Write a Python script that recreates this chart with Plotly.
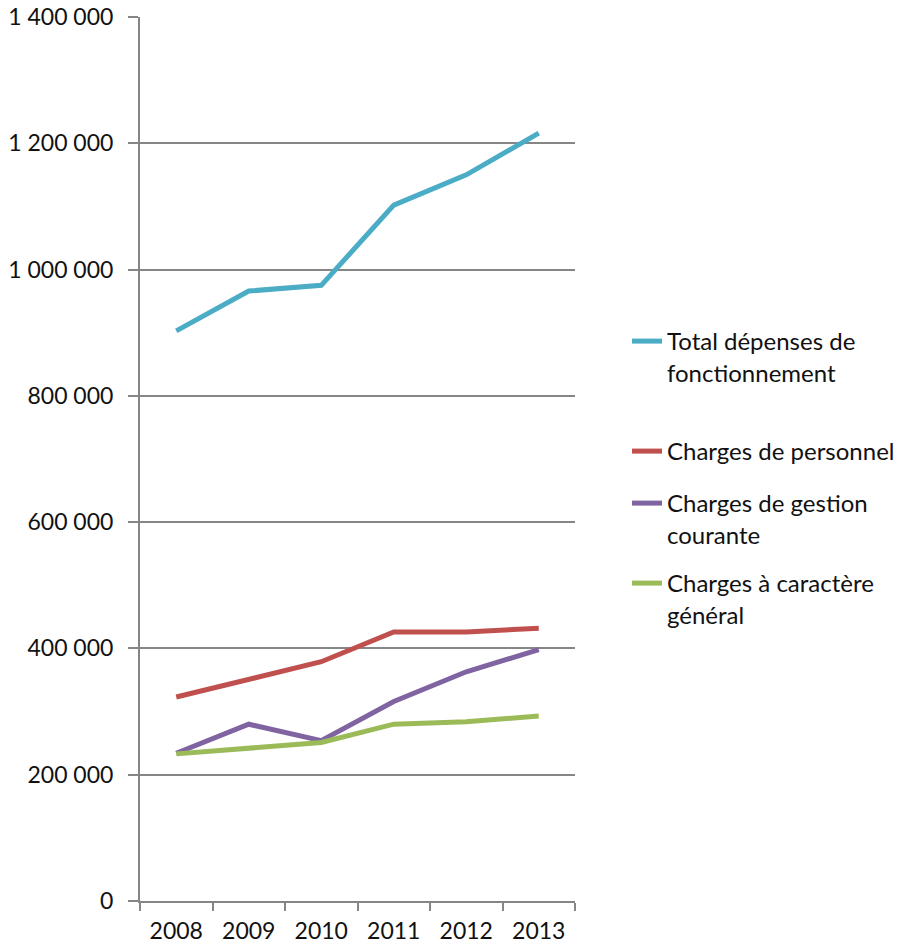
import plotly.graph_objects as go

years = ["2008", "2009", "2010", "2011", "2012", "2013"]
total = [903000, 966000, 975000, 1102000, 1150000, 1216000]
personnel = [323000, 350000, 379000, 426000, 426000, 432000]
gestion = [234000, 280000, 254000, 316000, 363000, 398000]
caractere = [233000, 242000, 251000, 280000, 284000, 293000]

names = ["Total dépenses de<br>fonctionnement", "Charges de personnel",
         "Charges de gestion<br>courante", "Charges à caractère<br>général"]
colors = ["#4BACC6", "#C0504D", "#8064A2", "#9BBB59"]
series = [total, personnel, gestion, caractere]
legends = ["legend", "legend2", "legend3", "legend4"]
leg_y = [340, 450, 502, 582]  # pixel rows of first text line

FONT = "Lato"
TXT = "#111111"

fig = go.Figure()
for nm, col, ys, lg in zip(names, colors, series, legends):
    fig.add_trace(go.Scatter(x=years, y=ys, mode="lines", name=nm,
                             line=dict(color=col, width=5), legend=lg))

H = 946
leg_common = dict(xref="container", yref="container", xanchor="left", yanchor="top",
                  valign="top", bgcolor="rgba(0,0,0,0)",
                  font=dict(family=FONT, size=24, color=TXT), itemwidth=30)
layout_legends = {}
for lg, yy in zip(legends, leg_y):
    layout_legends[lg] = dict(leg_common, x=627/909, y=1 - (yy - 21) / H)

fig.update_layout(
    width=909, height=946,
    margin=dict(l=140, r=334, t=17, b=45),
    paper_bgcolor="white", plot_bgcolor="white",
    separators=", ",
    font=dict(family=FONT, size=23, color=TXT),
    showlegend=True,
    xaxis=dict(type="category", range=[-0.5, 5.5], tickson="boundaries",
               showgrid=False, showline=True, linecolor="#868686", linewidth=2,
               ticks="outside", ticklen=8, tickwidth=2, tickcolor="#868686",
               ticklabelstandoff=8, automargin=False,
               tickfont=dict(family=FONT, size=23, color=TXT)),
    yaxis=dict(range=[0, 1400000], dtick=200000, tickformat=",d",
               showgrid=True, gridcolor="#868686", gridwidth=1.5,
               showline=True, linecolor="#868686", linewidth=2,
               ticks="outside", ticklen=10, tickwidth=2, tickcolor="#868686",
               ticklabelstandoff=10, zeroline=False, automargin=False,
               tickfont=dict(family=FONT, size=23, color=TXT)),
    **layout_legends,
)

fig.write_html("out.html")
